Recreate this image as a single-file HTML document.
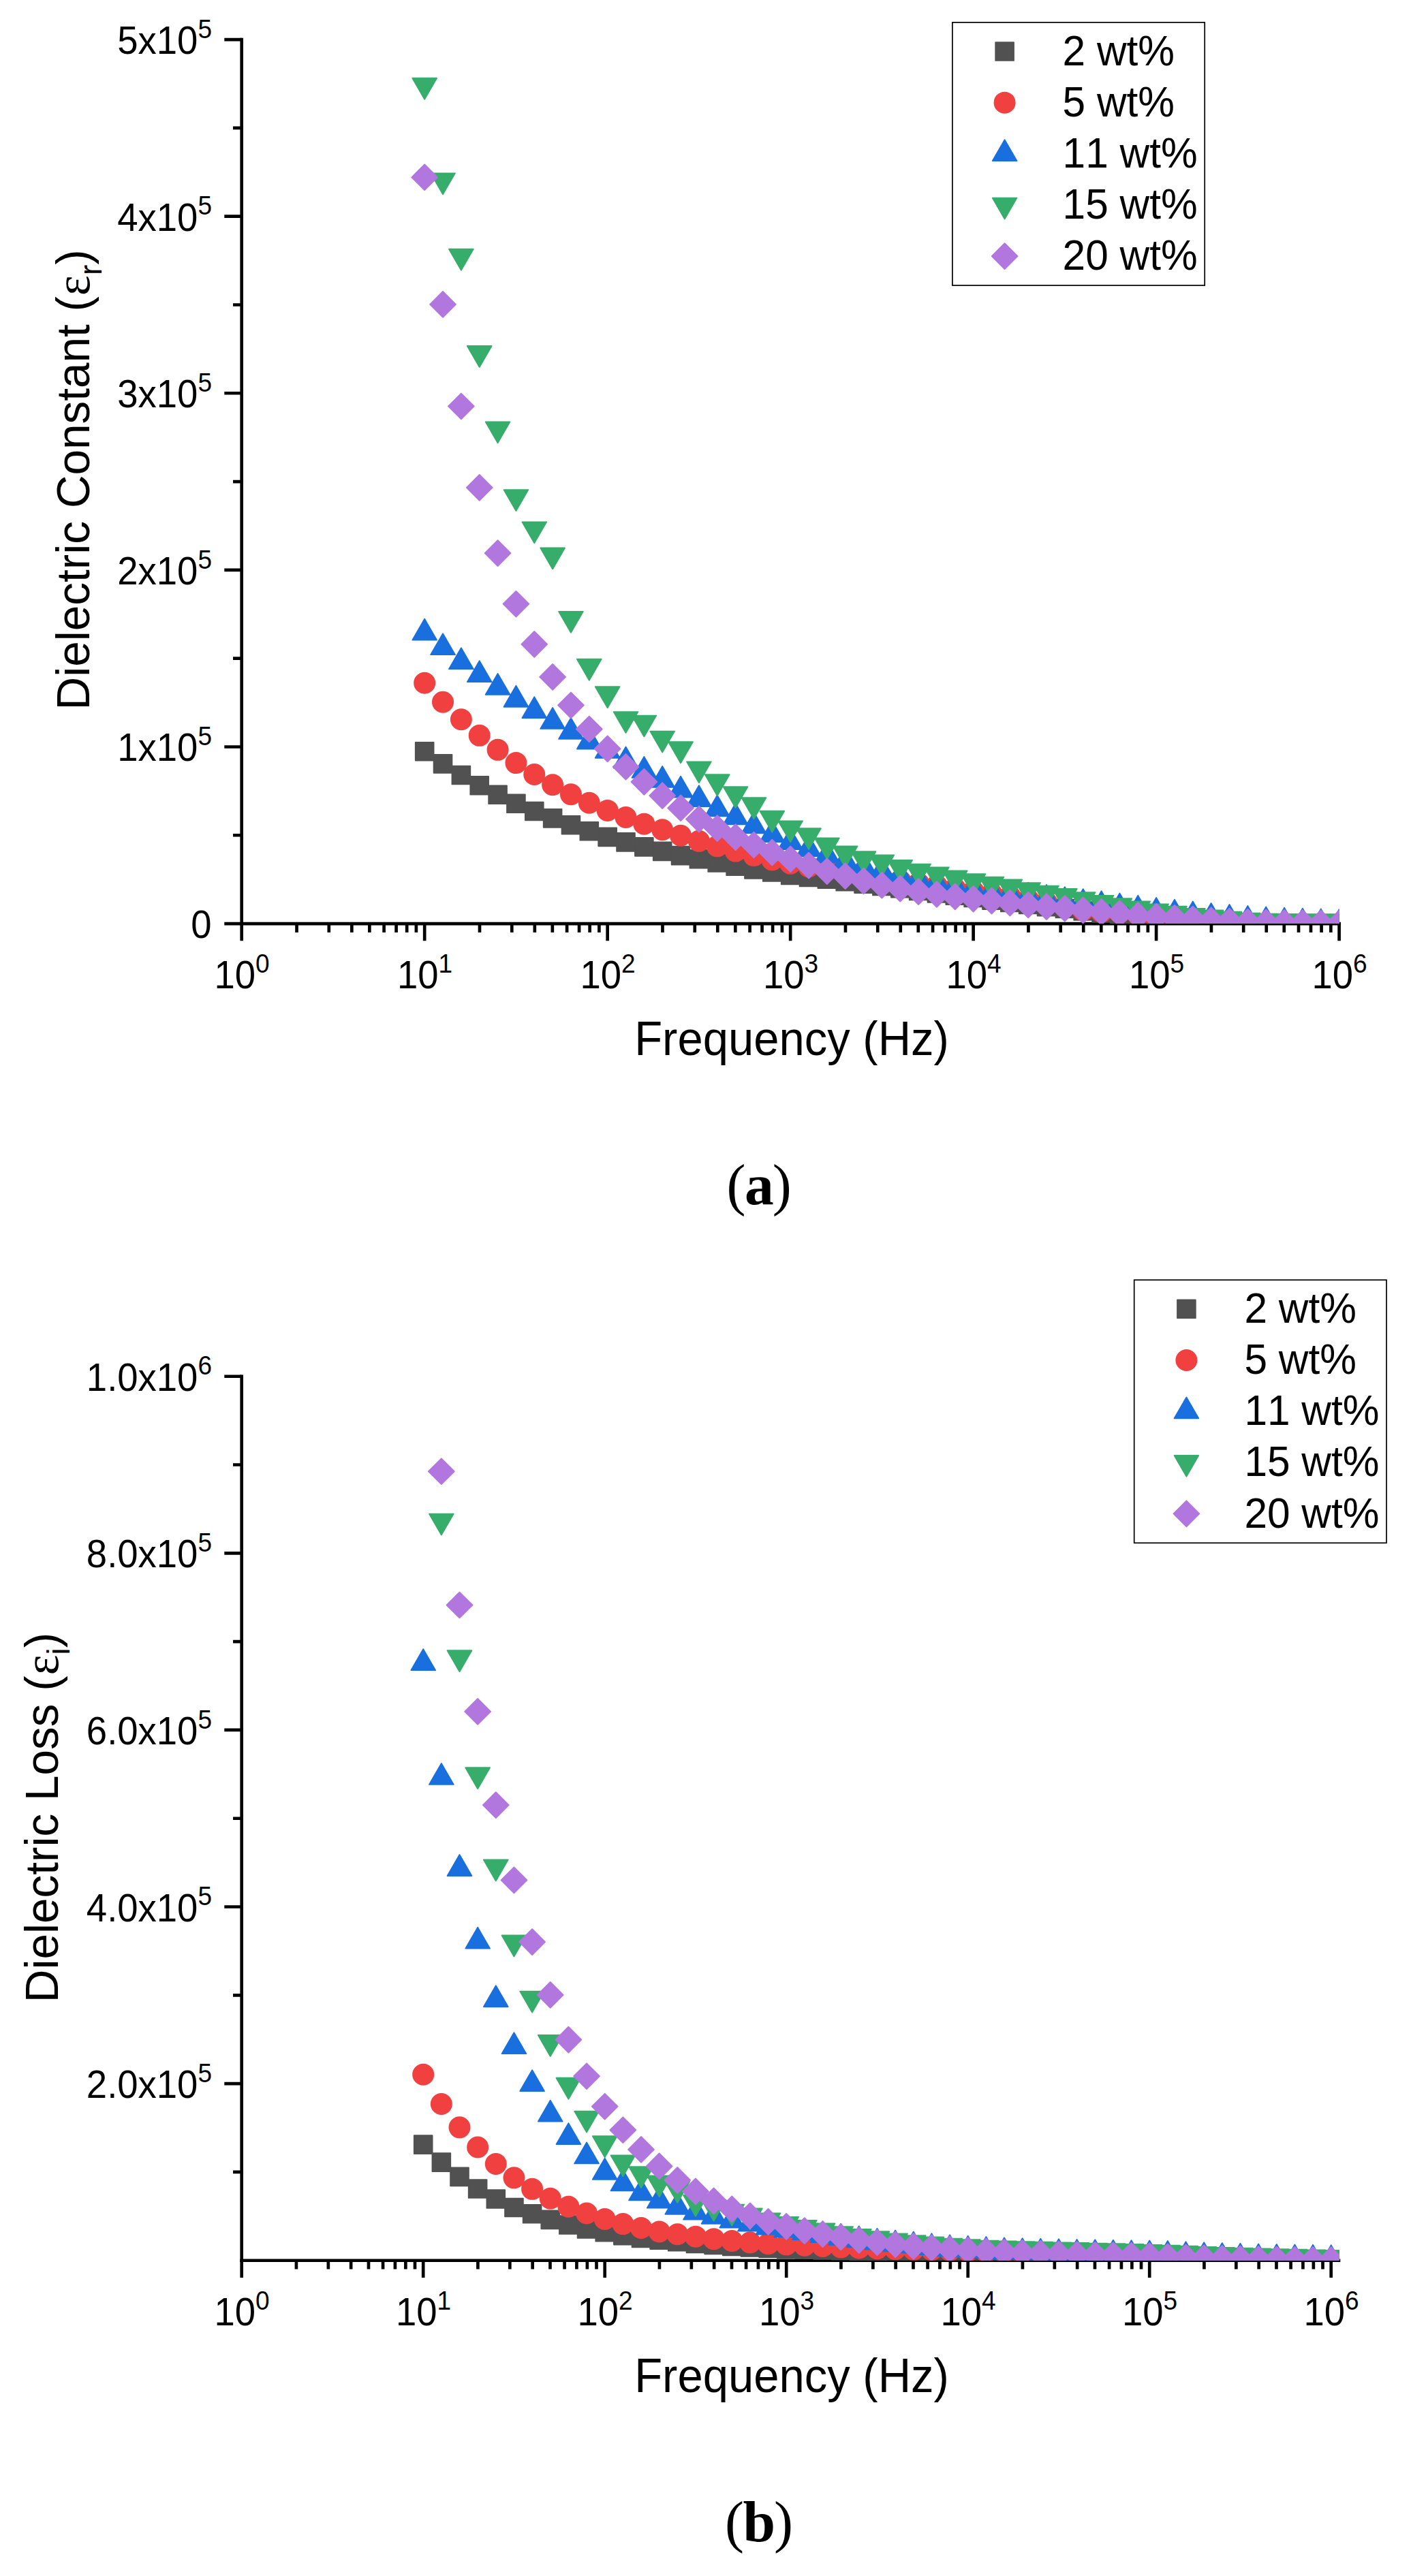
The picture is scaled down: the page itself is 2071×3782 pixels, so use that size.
<!DOCTYPE html>
<html lang="en"><head><meta charset="utf-8"><title>Dielectric constant and loss vs frequency</title>
<style>html,body{margin:0;padding:0;background:#fff}body{width:2071px;height:3782px;overflow:hidden}</style></head>
<body>
<svg width="2071" height="3782" viewBox="0 0 2071 3782" style="display:block">
<rect width="2071" height="3782" fill="#fff"/>
<g font-family='"Liberation Sans", sans-serif' fill="#000" style="font-kerning:none">
<g stroke="#000" stroke-width="4.65" stroke-linecap="butt" fill="none">
<path d="M354.7 55.72V1358.38"/>
<path d="M352.38 1356.05H1967.92"/>
<path d="M329.3 1356.05H354.7M329.3 1096.45H354.7M329.3 836.85H354.7M329.3 577.25H354.7M329.3 317.65H354.7M329.3 58.05H354.7M342 1226.25H354.7M342 966.65H354.7M342 707.05H354.7M342 447.45H354.7M342 187.85H354.7M354.7 1356.05V1381.35M435.52 1356.05V1368.95M482.8 1356.05V1368.95M516.34 1356.05V1368.95M542.36 1356.05V1368.95M563.62 1356.05V1368.95M581.59 1356.05V1368.95M597.16 1356.05V1368.95M610.9 1356.05V1368.95M623.18 1356.05V1381.35M704 1356.05V1368.95M751.28 1356.05V1368.95M784.82 1356.05V1368.95M810.84 1356.05V1368.95M832.1 1356.05V1368.95M850.07 1356.05V1368.95M865.64 1356.05V1368.95M879.38 1356.05V1368.95M891.66 1356.05V1381.35M972.48 1356.05V1368.95M1019.76 1356.05V1368.95M1053.3 1356.05V1368.95M1079.32 1356.05V1368.95M1100.58 1356.05V1368.95M1118.55 1356.05V1368.95M1134.12 1356.05V1368.95M1147.86 1356.05V1368.95M1160.14 1356.05V1381.35M1240.96 1356.05V1368.95M1288.24 1356.05V1368.95M1321.78 1356.05V1368.95M1347.8 1356.05V1368.95M1369.06 1356.05V1368.95M1387.03 1356.05V1368.95M1402.6 1356.05V1368.95M1416.34 1356.05V1368.95M1428.62 1356.05V1381.35M1509.44 1356.05V1368.95M1556.72 1356.05V1368.95M1590.26 1356.05V1368.95M1616.28 1356.05V1368.95M1637.54 1356.05V1368.95M1655.51 1356.05V1368.95M1671.08 1356.05V1368.95M1684.82 1356.05V1368.95M1697.1 1356.05V1381.35M1777.92 1356.05V1368.95M1825.2 1356.05V1368.95M1858.74 1356.05V1368.95M1884.76 1356.05V1368.95M1906.02 1356.05V1368.95M1923.99 1356.05V1368.95M1939.56 1356.05V1368.95M1953.3 1356.05V1368.95M1965.58 1356.05V1381.35"/>
</g>
<text transform="translate(310.5 1377.05) scale(1 1.05)" text-anchor="end" font-size="54.5">0</text>
<text transform="translate(311 1117.45) scale(1 1.05)" text-anchor="end" font-size="54.5">1x10<tspan dy="-22.2" font-size="37">5</tspan></text>
<text transform="translate(311 857.85) scale(1 1.05)" text-anchor="end" font-size="54.5">2x10<tspan dy="-22.2" font-size="37">5</tspan></text>
<text transform="translate(311 598.25) scale(1 1.05)" text-anchor="end" font-size="54.5">3x10<tspan dy="-22.2" font-size="37">5</tspan></text>
<text transform="translate(311 338.65) scale(1 1.05)" text-anchor="end" font-size="54.5">4x10<tspan dy="-22.2" font-size="37">5</tspan></text>
<text transform="translate(311 79.05) scale(1 1.05)" text-anchor="end" font-size="54.5">5x10<tspan dy="-22.2" font-size="37">5</tspan></text>
<text transform="translate(355.1 1451.45) scale(1 1.05)" text-anchor="middle" font-size="54.5">10<tspan dy="-22.2" font-size="37">0</tspan></text>
<text transform="translate(623.58 1451.45) scale(1 1.05)" text-anchor="middle" font-size="54.5">10<tspan dy="-22.2" font-size="37">1</tspan></text>
<text transform="translate(892.06 1451.45) scale(1 1.05)" text-anchor="middle" font-size="54.5">10<tspan dy="-22.2" font-size="37">2</tspan></text>
<text transform="translate(1160.54 1451.45) scale(1 1.05)" text-anchor="middle" font-size="54.5">10<tspan dy="-22.2" font-size="37">3</tspan></text>
<text transform="translate(1429.02 1451.45) scale(1 1.05)" text-anchor="middle" font-size="54.5">10<tspan dy="-22.2" font-size="37">4</tspan></text>
<text transform="translate(1697.5 1451.45) scale(1 1.05)" text-anchor="middle" font-size="54.5">10<tspan dy="-22.2" font-size="37">5</tspan></text>
<text transform="translate(1965.98 1451.45) scale(1 1.05)" text-anchor="middle" font-size="54.5">10<tspan dy="-22.2" font-size="37">6</tspan></text>
<text transform="translate(1162 1549.1) scale(1 1.055)" text-anchor="middle" font-size="67">Frequency (Hz)</text>
<text transform="translate(131.4 704.4) rotate(-90) scale(1 1.01)" text-anchor="middle" font-size="67.5">Dielectric Constant (<tspan dx="1" font-family='"Liberation Serif", serif' font-size="71">ε</tspan><tspan dy="17.5" font-size="46">r</tspan><tspan dy="-17.5">)</tspan></text>
<text x="1114" y="1768.05" text-anchor="middle" font-family='"Liberation Serif", serif' font-size="84">(<tspan dx="-1.5" font-weight="bold" font-size="85.5">a</tspan><tspan dx="-2">)</tspan></text>
<clipPath id="clip0"><rect x="354.7" y="18.05" width="1610.9" height="1338"/></clipPath>
<g clip-path="url(#clip0)">
<path fill="#515151" stroke="#515151" stroke-width="1.8" stroke-linejoin="round" d="M609.78 1089.8h26.8v26.8h-26.8zM636.63 1107.97h26.8v26.8h-26.8zM663.48 1124.59h26.8v26.8h-26.8zM690.32 1139.9h26.8v26.8h-26.8zM717.17 1153.4h26.8v26.8h-26.8zM744.02 1166.38h26.8v26.8h-26.8zM770.87 1177.54h26.8v26.8h-26.8zM797.72 1187.93h26.8v26.8h-26.8zM824.56 1197.79h26.8v26.8h-26.8zM851.41 1206.88h26.8v26.8h-26.8zM878.26 1215.45h26.8v26.8h-26.8zM905.11 1222.97h26.8v26.8h-26.8zM931.96 1229.98h26.8v26.8h-26.8zM958.8 1236.47h26.8v26.8h-26.8zM985.65 1242.7h26.8v26.8h-26.8zM1012.5 1247.9h26.8v26.8h-26.8zM1039.35 1253.09h26.8v26.8h-26.8zM1066.2 1258.28h26.8v26.8h-26.8zM1093.04 1262.95h26.8v26.8h-26.8zM1119.89 1267.11h26.8v26.8h-26.8zM1146.74 1271.52h26.8v26.8h-26.8zM1173.59 1274.43h26.8v26.8h-26.8zM1200.44 1277.23h26.8v26.8h-26.8zM1227.28 1280.83h26.8v26.8h-26.8zM1254.13 1284.24h26.8v26.8h-26.8zM1280.98 1287.58h26.8v26.8h-26.8zM1307.83 1290.73h26.8v26.8h-26.8zM1334.68 1294.5h26.8v26.8h-26.8zM1361.52 1298h26.8v26.8h-26.8zM1388.37 1301.37h26.8v26.8h-26.8zM1415.22 1304.49h26.8v26.8h-26.8zM1442.07 1308.22h26.8v26.8h-26.8zM1468.92 1311.58h26.8v26.8h-26.8zM1495.76 1314.61h26.8v26.8h-26.8zM1522.61 1317.78h26.8v26.8h-26.8zM1549.46 1320.58h26.8v26.8h-26.8zM1576.31 1324.11h26.8v26.8h-26.8zM1603.16 1327.07h26.8v26.8h-26.8zM1630 1329.67h26.8v26.8h-26.8zM1656.85 1332.6h26.8v26.8h-26.8zM1683.7 1334.86h26.8v26.8h-26.8zM1710.55 1337.14h26.8v26.8h-26.8zM1737.4 1338.76h26.8v26.8h-26.8zM1764.24 1340.4h26.8v26.8h-26.8zM1791.09 1341.35h26.8v26.8h-26.8zM1817.94 1342.07h26.8v26.8h-26.8zM1844.79 1342.39h26.8v26.8h-26.8zM1871.64 1342.39h26.8v26.8h-26.8zM1898.48 1342.39h26.8v26.8h-26.8zM1925.33 1342.39h26.8v26.8h-26.8zM1952.18 1342.39h26.8v26.8h-26.8z"/>
<path fill="#F14040"  d="M607.18 1002.73a16 16 0 1 0 32 0a16 16 0 1 0 -32 0zM634.03 1030.77a16 16 0 1 0 32 0a16 16 0 1 0 -32 0zM660.88 1056.21a16 16 0 1 0 32 0a16 16 0 1 0 -32 0zM687.72 1079.84a16 16 0 1 0 32 0a16 16 0 1 0 -32 0zM714.57 1100.86a16 16 0 1 0 32 0a16 16 0 1 0 -32 0zM741.42 1120.07a16 16 0 1 0 32 0a16 16 0 1 0 -32 0zM768.27 1136.95a16 16 0 1 0 32 0a16 16 0 1 0 -32 0zM795.12 1152.26a16 16 0 1 0 32 0a16 16 0 1 0 -32 0zM821.96 1166.28a16 16 0 1 0 32 0a16 16 0 1 0 -32 0zM848.81 1178.74a16 16 0 1 0 32 0a16 16 0 1 0 -32 0zM875.66 1189.91a16 16 0 1 0 32 0a16 16 0 1 0 -32 0zM902.51 1200.03a16 16 0 1 0 32 0a16 16 0 1 0 -32 0zM929.36 1209.64a16 16 0 1 0 32 0a16 16 0 1 0 -32 0zM956.2 1218.2a16 16 0 1 0 32 0a16 16 0 1 0 -32 0zM983.05 1226.77a16 16 0 1 0 32 0a16 16 0 1 0 -32 0zM1009.9 1234.82a16 16 0 1 0 32 0a16 16 0 1 0 -32 0zM1036.75 1242.35a16 16 0 1 0 32 0a16 16 0 1 0 -32 0zM1063.6 1249.61a16 16 0 1 0 32 0a16 16 0 1 0 -32 0zM1090.44 1256.1a16 16 0 1 0 32 0a16 16 0 1 0 -32 0zM1117.29 1262.33a16 16 0 1 0 32 0a16 16 0 1 0 -32 0zM1144.14 1267.79a16 16 0 1 0 32 0a16 16 0 1 0 -32 0zM1170.99 1272.35a16 16 0 1 0 32 0a16 16 0 1 0 -32 0zM1197.84 1276.67a16 16 0 1 0 32 0a16 16 0 1 0 -32 0zM1224.68 1280.77a16 16 0 1 0 32 0a16 16 0 1 0 -32 0zM1251.53 1284.66a16 16 0 1 0 32 0a16 16 0 1 0 -32 0zM1278.38 1288.92a16 16 0 1 0 32 0a16 16 0 1 0 -32 0zM1305.23 1292.93a16 16 0 1 0 32 0a16 16 0 1 0 -32 0zM1332.08 1296.69a16 16 0 1 0 32 0a16 16 0 1 0 -32 0zM1358.92 1300.24a16 16 0 1 0 32 0a16 16 0 1 0 -32 0zM1385.77 1304.62a16 16 0 1 0 32 0a16 16 0 1 0 -32 0zM1412.62 1308.66a16 16 0 1 0 32 0a16 16 0 1 0 -32 0zM1439.47 1312.38a16 16 0 1 0 32 0a16 16 0 1 0 -32 0zM1466.32 1315.81a16 16 0 1 0 32 0a16 16 0 1 0 -32 0zM1493.16 1320.65a16 16 0 1 0 32 0a16 16 0 1 0 -32 0zM1520.01 1324.9a16 16 0 1 0 32 0a16 16 0 1 0 -32 0zM1546.86 1331.42a16 16 0 1 0 32 0a16 16 0 1 0 -32 0zM1573.71 1336.58a16 16 0 1 0 32 0a16 16 0 1 0 -32 0zM1600.56 1338.92a16 16 0 1 0 32 0a16 16 0 1 0 -32 0zM1627.4 1339.95a16 16 0 1 0 32 0a16 16 0 1 0 -32 0zM1654.25 1343.07a16 16 0 1 0 32 0a16 16 0 1 0 -32 0zM1681.1 1348.26a16 16 0 1 0 32 0a16 16 0 1 0 -32 0zM1707.95 1350.86a16 16 0 1 0 32 0a16 16 0 1 0 -32 0zM1734.8 1352.93a16 16 0 1 0 32 0a16 16 0 1 0 -32 0zM1761.64 1354.04a16 16 0 1 0 32 0a16 16 0 1 0 -32 0zM1788.49 1354.75a16 16 0 1 0 32 0a16 16 0 1 0 -32 0zM1815.34 1355.4a16 16 0 1 0 32 0a16 16 0 1 0 -32 0zM1842.19 1356.05a16 16 0 1 0 32 0a16 16 0 1 0 -32 0zM1869.04 1356.37a16 16 0 1 0 32 0a16 16 0 1 0 -32 0zM1895.88 1356.7a16 16 0 1 0 32 0a16 16 0 1 0 -32 0zM1922.73 1357.02a16 16 0 1 0 32 0a16 16 0 1 0 -32 0zM1949.58 1357.35a16 16 0 1 0 32 0a16 16 0 1 0 -32 0z"/>
<path fill="#1A6FDF" stroke="#1A6FDF" stroke-width="1.8" stroke-linejoin="round" d="M623.18 908.61l17.89 30.99h-35.78zM650.03 930.16l17.89 30.99h-35.78zM676.88 951.18l17.89 30.99h-35.78zM703.72 970.13l17.89 30.99h-35.78zM730.57 988.83l17.89 30.99h-35.78zM757.42 1006.74l17.89 30.99h-35.78zM784.27 1023.09l17.89 30.99h-35.78zM811.12 1038.93l17.89 30.99h-35.78zM837.96 1053.98l17.89 30.99h-35.78zM864.81 1068.52l17.89 30.99h-35.78zM891.66 1081.76l17.89 30.99h-35.78zM918.51 1096.56l17.89 30.99h-35.78zM945.36 1110.84l17.89 30.99h-35.78zM972.2 1124.86l17.89 30.99h-35.78zM999.05 1139.65l17.89 30.99h-35.78zM1025.9 1153.15l17.89 30.99h-35.78zM1052.75 1167.43l17.89 30.99h-35.78zM1079.6 1179.37l17.89 30.99h-35.78zM1106.44 1192.35l17.89 30.99h-35.78zM1133.29 1205.07l17.89 30.99h-35.78zM1160.14 1216.1l17.89 30.99h-35.78zM1186.99 1226.2l17.89 30.99h-35.78zM1213.84 1235.45l17.89 30.99h-35.78zM1240.68 1243.93l17.89 30.99h-35.78zM1267.53 1251.69l17.89 30.99h-35.78zM1294.38 1258.8l17.89 30.99h-35.78zM1321.23 1265.3l17.89 30.99h-35.78zM1348.08 1271.03l17.89 30.99h-35.78zM1374.92 1276.28l17.89 30.99h-35.78zM1401.77 1281.11l17.89 30.99h-35.78zM1428.62 1285.55l17.89 30.99h-35.78zM1455.47 1289.18l17.89 30.99h-35.78zM1482.32 1292.55l17.89 30.99h-35.78zM1509.16 1295.67l17.89 30.99h-35.78zM1536.01 1299.05l17.89 30.99h-35.78zM1562.86 1302.16l17.89 30.99h-35.78zM1589.71 1305.15l17.89 30.99h-35.78zM1616.56 1308.13l17.89 30.99h-35.78zM1643.4 1311.51l17.89 30.99h-35.78zM1670.25 1314.62l17.89 30.99h-35.78zM1697.1 1317.84l17.89 30.99h-35.78zM1723.95 1320.65l17.89 30.99h-35.78zM1750.8 1323.45l17.89 30.99h-35.78zM1777.64 1326.05l17.89 30.99h-35.78zM1804.49 1328.04l17.89 30.99h-35.78zM1831.34 1329.84l17.89 30.99h-35.78zM1858.19 1331.34l17.89 30.99h-35.78zM1885.04 1332.64l17.89 30.99h-35.78zM1911.88 1333.65l17.89 30.99h-35.78zM1938.73 1334.43l17.89 30.99h-35.78zM1965.58 1334.95l17.89 30.99h-35.78z"/>
<path fill="#37AD6B" stroke="#37AD6B" stroke-width="1.8" stroke-linejoin="round" d="M623.18 145.69l17.89 -30.99h-35.78zM650.03 285.35l17.89 -30.99h-35.78zM676.88 396.72l17.89 -30.99h-35.78zM703.72 538.98l17.89 -30.99h-35.78zM730.57 650.35l17.89 -30.99h-35.78zM757.42 750.03l17.89 -30.99h-35.78zM784.27 797.28l17.89 -30.99h-35.78zM811.12 835.44l17.89 -30.99h-35.78zM837.96 928.9l17.89 -30.99h-35.78zM864.81 998.73l17.89 -30.99h-35.78zM891.66 1039.23l17.89 -30.99h-35.78zM918.51 1076.09l17.89 -30.99h-35.78zM945.36 1081.54l17.89 -30.99h-35.78zM972.2 1104.65l17.89 -30.99h-35.78zM999.05 1120.22l17.89 -30.99h-35.78zM1025.9 1149.3l17.89 -30.99h-35.78zM1052.75 1168.25l17.89 -30.99h-35.78zM1079.6 1186.16l17.89 -30.99h-35.78zM1106.44 1202.26l17.89 -30.99h-35.78zM1133.29 1221.73l17.89 -30.99h-35.78zM1160.14 1236.27l17.89 -30.99h-35.78zM1186.99 1247.17l17.89 -30.99h-35.78zM1213.84 1261.45l17.89 -30.99h-35.78zM1240.68 1273.39l17.89 -30.99h-35.78zM1267.53 1281.18l17.89 -30.99h-35.78zM1294.38 1286.37l17.89 -30.99h-35.78zM1321.23 1293.9l17.89 -30.99h-35.78zM1348.08 1299.61l17.89 -30.99h-35.78zM1374.92 1304.28l17.89 -30.99h-35.78zM1401.77 1309.47l17.89 -30.99h-35.78zM1428.62 1314.15l17.89 -30.99h-35.78zM1455.47 1318.56l17.89 -30.99h-35.78zM1482.32 1322.45l17.89 -30.99h-35.78zM1509.16 1327.13l17.89 -30.99h-35.78zM1536.01 1331.54l17.89 -30.99h-35.78zM1562.86 1335.95l17.89 -30.99h-35.78zM1589.71 1341.14l17.89 -30.99h-35.78zM1616.56 1345.82l17.89 -30.99h-35.78zM1643.4 1350.23l17.89 -30.99h-35.78zM1670.25 1354.38l17.89 -30.99h-35.78zM1697.1 1358.28l17.89 -30.99h-35.78zM1723.95 1361.76l17.89 -30.99h-35.78zM1750.8 1364.87l17.89 -30.99h-35.78zM1777.64 1367.47l17.89 -30.99h-35.78zM1804.49 1369.7l17.89 -30.99h-35.78zM1831.34 1371.52l17.89 -30.99h-35.78zM1858.19 1372.76l17.89 -30.99h-35.78zM1885.04 1373.26l17.89 -30.99h-35.78zM1911.88 1373.57l17.89 -30.99h-35.78zM1938.73 1373.75l17.89 -30.99h-35.78zM1965.58 1374.11l17.89 -30.99h-35.78z"/>
<path fill="#B177DE" stroke="#B177DE" stroke-width="1.8" stroke-linejoin="round" d="M623.18 241.35l18.93 18.93l-18.93 18.93l-18.93 -18.93zM650.03 428l18.93 18.93l-18.93 18.93l-18.93 -18.93zM676.88 577.53l18.93 18.93l-18.93 18.93l-18.93 -18.93zM703.72 696.95l18.93 18.93l-18.93 18.93l-18.93 -18.93zM730.57 793.26l18.93 18.93l-18.93 18.93l-18.93 -18.93zM757.42 867.77l18.93 18.93l-18.93 18.93l-18.93 -18.93zM784.27 926.95l18.93 18.93l-18.93 18.93l-18.93 -18.93zM811.12 974.98l18.93 18.93l-18.93 18.93l-18.93 -18.93zM837.96 1016.52l18.93 18.93l-18.93 18.93l-18.93 -18.93zM864.81 1051.56l18.93 18.93l-18.93 18.93l-18.93 -18.93zM891.66 1080.38l18.93 18.93l-18.93 18.93l-18.93 -18.93zM918.51 1106.86l18.93 18.93l-18.93 18.93l-18.93 -18.93zM945.36 1128.92l18.93 18.93l-18.93 18.93l-18.93 -18.93zM972.2 1149.17l18.93 18.93l-18.93 18.93l-18.93 -18.93zM999.05 1167.34l18.93 18.93l-18.93 18.93l-18.93 -18.93zM1025.9 1183.7l18.93 18.93l-18.93 18.93l-18.93 -18.93zM1052.75 1197.2l18.93 18.93l-18.93 18.93l-18.93 -18.93zM1079.6 1210.18l18.93 18.93l-18.93 18.93l-18.93 -18.93zM1106.44 1221.6l18.93 18.93l-18.93 18.93l-18.93 -18.93zM1133.29 1232.76l18.93 18.93l-18.93 18.93l-18.93 -18.93zM1160.14 1242.37l18.93 18.93l-18.93 18.93l-18.93 -18.93zM1186.99 1251.71l18.93 18.93l-18.93 18.93l-18.93 -18.93zM1213.84 1260.28l18.93 18.93l-18.93 18.93l-18.93 -18.93zM1240.68 1267.29l18.93 18.93l-18.93 18.93l-18.93 -18.93zM1267.53 1274.56l18.93 18.93l-18.93 18.93l-18.93 -18.93zM1294.38 1280.79l18.93 18.93l-18.93 18.93l-18.93 -18.93zM1321.23 1285.72l18.93 18.93l-18.93 18.93l-18.93 -18.93zM1348.08 1290.14l18.93 18.93l-18.93 18.93l-18.93 -18.93zM1374.92 1294.03l18.93 18.93l-18.93 18.93l-18.93 -18.93zM1401.77 1297.4l18.93 18.93l-18.93 18.93l-18.93 -18.93zM1428.62 1300.78l18.93 18.93l-18.93 18.93l-18.93 -18.93zM1455.47 1303.63l18.93 18.93l-18.93 18.93l-18.93 -18.93zM1482.32 1306.75l18.93 18.93l-18.93 18.93l-18.93 -18.93zM1509.16 1309.61l18.93 18.93l-18.93 18.93l-18.93 -18.93zM1536.01 1312.2l18.93 18.93l-18.93 18.93l-18.93 -18.93zM1562.86 1314.8l18.93 18.93l-18.93 18.93l-18.93 -18.93zM1589.71 1317.39l18.93 18.93l-18.93 18.93l-18.93 -18.93zM1616.56 1319.99l18.93 18.93l-18.93 18.93l-18.93 -18.93zM1643.4 1322.33l18.93 18.93l-18.93 18.93l-18.93 -18.93zM1670.25 1325.18l18.93 18.93l-18.93 18.93l-18.93 -18.93zM1697.1 1326.87l18.93 18.93l-18.93 18.93l-18.93 -18.93zM1723.95 1328.97l18.93 18.93l-18.93 18.93l-18.93 -18.93zM1750.8 1330.76l18.93 18.93l-18.93 18.93l-18.93 -18.93zM1777.64 1332.27l18.93 18.93l-18.93 18.93l-18.93 -18.93zM1804.49 1333.57l18.93 18.93l-18.93 18.93l-18.93 -18.93zM1831.34 1334.58l18.93 18.93l-18.93 18.93l-18.93 -18.93zM1858.19 1335.38l18.93 18.93l-18.93 18.93l-18.93 -18.93zM1885.04 1335.88l18.93 18.93l-18.93 18.93l-18.93 -18.93zM1911.88 1336.08l18.93 18.93l-18.93 18.93l-18.93 -18.93zM1938.73 1336.34l18.93 18.93l-18.93 18.93l-18.93 -18.93zM1965.58 1336.6l18.93 18.93l-18.93 18.93l-18.93 -18.93z"/>
</g>
<rect x="1397.9" y="32.9" width="370.3" height="386.1" fill="#fff" stroke="#000" stroke-width="1.7"/>
<path fill="#515151" stroke="#515151" stroke-width="1.8" stroke-linejoin="round" d="M1461.2 62.1h26.8v26.8h-26.8z"/>
<text transform="translate(1559.6 95.7) scale(1 1.045)" font-size="60.4">2 wt%</text>
<path fill="#F14040"  d="M1458.6 150.65a16 16 0 1 0 32 0a16 16 0 1 0 -32 0z"/>
<text transform="translate(1559.6 170.85) scale(1 1.045)" font-size="60.4">5 wt%</text>
<path fill="#1A6FDF" stroke="#1A6FDF" stroke-width="1.8" stroke-linejoin="round" d="M1474.6 205.14l17.89 30.99h-35.78z"/>
<text transform="translate(1559.6 246) scale(1 1.045)" font-size="60.4">11 wt%</text>
<path fill="#37AD6B" stroke="#37AD6B" stroke-width="1.8" stroke-linejoin="round" d="M1474.6 321.61l17.89 -30.99h-35.78z"/>
<text transform="translate(1559.6 321.15) scale(1 1.045)" font-size="60.4">15 wt%</text>
<path fill="#B177DE" stroke="#B177DE" stroke-width="1.8" stroke-linejoin="round" d="M1474.6 357.17l18.93 18.93l-18.93 18.93l-18.93 -18.93z"/>
<text transform="translate(1559.6 396.3) scale(1 1.045)" font-size="60.4">20 wt%</text>
</g>
<g font-family='"Liberation Sans", sans-serif' fill="#000" style="font-kerning:none">
<g stroke="#000" stroke-width="4.65" stroke-linecap="butt" fill="none">
<path d="M354.7 2018.38V3321.02"/>
<path d="M352.38 3318.7H1967.3"/>
<path d="M329.3 3059.1H354.7M329.3 2799.5H354.7M329.3 2539.9H354.7M329.3 2280.3H354.7M329.3 2020.7H354.7M342 3188.9H354.7M342 2929.3H354.7M342 2669.7H354.7M342 2410.1H354.7M342 2150.5H354.7M354.7 3318.7V3344M434.92 3318.7V3331.6M481.85 3318.7V3331.6M515.15 3318.7V3331.6M540.98 3318.7V3331.6M562.08 3318.7V3331.6M579.92 3318.7V3331.6M595.37 3318.7V3331.6M609.01 3318.7V3331.6M621.2 3318.7V3344M701.42 3318.7V3331.6M748.35 3318.7V3331.6M781.65 3318.7V3331.6M807.48 3318.7V3331.6M828.58 3318.7V3331.6M846.42 3318.7V3331.6M861.87 3318.7V3331.6M875.51 3318.7V3331.6M887.7 3318.7V3344M967.92 3318.7V3331.6M1014.85 3318.7V3331.6M1048.15 3318.7V3331.6M1073.98 3318.7V3331.6M1095.08 3318.7V3331.6M1112.92 3318.7V3331.6M1128.37 3318.7V3331.6M1142.01 3318.7V3331.6M1154.2 3318.7V3344M1234.42 3318.7V3331.6M1281.35 3318.7V3331.6M1314.65 3318.7V3331.6M1340.48 3318.7V3331.6M1361.58 3318.7V3331.6M1379.42 3318.7V3331.6M1394.87 3318.7V3331.6M1408.51 3318.7V3331.6M1420.7 3318.7V3344M1500.92 3318.7V3331.6M1547.85 3318.7V3331.6M1581.15 3318.7V3331.6M1606.98 3318.7V3331.6M1628.08 3318.7V3331.6M1645.92 3318.7V3331.6M1661.37 3318.7V3331.6M1675.01 3318.7V3331.6M1687.2 3318.7V3344M1767.42 3318.7V3331.6M1814.35 3318.7V3331.6M1847.65 3318.7V3331.6M1873.48 3318.7V3331.6M1894.58 3318.7V3331.6M1912.42 3318.7V3331.6M1927.87 3318.7V3331.6M1941.51 3318.7V3331.6M1953.7 3318.7V3344"/>
</g>
<text transform="translate(311 3080.1) scale(1 1.05)" text-anchor="end" font-size="54.5">2.0x10<tspan dy="-22.2" font-size="37">5</tspan></text>
<text transform="translate(311 2820.5) scale(1 1.05)" text-anchor="end" font-size="54.5">4.0x10<tspan dy="-22.2" font-size="37">5</tspan></text>
<text transform="translate(311 2560.9) scale(1 1.05)" text-anchor="end" font-size="54.5">6.0x10<tspan dy="-22.2" font-size="37">5</tspan></text>
<text transform="translate(311 2301.3) scale(1 1.05)" text-anchor="end" font-size="54.5">8.0x10<tspan dy="-22.2" font-size="37">5</tspan></text>
<text transform="translate(311 2041.7) scale(1 1.05)" text-anchor="end" font-size="54.5">1.0x10<tspan dy="-22.2" font-size="37">6</tspan></text>
<text transform="translate(355.1 3414.1) scale(1 1.05)" text-anchor="middle" font-size="54.5">10<tspan dy="-22.2" font-size="37">0</tspan></text>
<text transform="translate(621.6 3414.1) scale(1 1.05)" text-anchor="middle" font-size="54.5">10<tspan dy="-22.2" font-size="37">1</tspan></text>
<text transform="translate(888.1 3414.1) scale(1 1.05)" text-anchor="middle" font-size="54.5">10<tspan dy="-22.2" font-size="37">2</tspan></text>
<text transform="translate(1154.6 3414.1) scale(1 1.05)" text-anchor="middle" font-size="54.5">10<tspan dy="-22.2" font-size="37">3</tspan></text>
<text transform="translate(1421.1 3414.1) scale(1 1.05)" text-anchor="middle" font-size="54.5">10<tspan dy="-22.2" font-size="37">4</tspan></text>
<text transform="translate(1687.6 3414.1) scale(1 1.05)" text-anchor="middle" font-size="54.5">10<tspan dy="-22.2" font-size="37">5</tspan></text>
<text transform="translate(1954.1 3414.1) scale(1 1.05)" text-anchor="middle" font-size="54.5">10<tspan dy="-22.2" font-size="37">6</tspan></text>
<text transform="translate(1162 3511.75) scale(1 1.055)" text-anchor="middle" font-size="67">Frequency (Hz)</text>
<text transform="translate(84.8 2668.5) rotate(-90) scale(1 1.01)" text-anchor="middle" font-size="67.5">Dielectric Loss (<tspan dx="1" font-family='"Liberation Serif", serif' font-size="71">ε</tspan><tspan dy="17.5" font-size="46">i</tspan><tspan dy="-17.5">)</tspan></text>
<text x="1114" y="3730.7" text-anchor="middle" font-family='"Liberation Serif", serif' font-size="84">(<tspan dx="-1.5" font-weight="bold" font-size="85.5">b</tspan><tspan dx="-2">)</tspan></text>
<clipPath id="clip1"><rect x="354.7" y="1980.7" width="1611.2" height="1338"/></clipPath>
<g clip-path="url(#clip1)">
<path fill="#515151" stroke="#515151" stroke-width="1.8" stroke-linejoin="round" d="M607.8 3135.26h26.8v26.8h-26.8zM634.45 3161.22h26.8v26.8h-26.8zM661.1 3182.51h26.8v26.8h-26.8zM687.75 3200.16h26.8v26.8h-26.8zM714.4 3215.09h26.8v26.8h-26.8zM741.05 3227.55h26.8v26.8h-26.8zM767.7 3236.9h26.8v26.8h-26.8zM794.35 3245.46h26.8v26.8h-26.8zM821 3253.12h26.8v26.8h-26.8zM847.65 3258.96h26.8v26.8h-26.8zM874.3 3263.89h26.8v26.8h-26.8zM900.95 3268.7h26.8v26.8h-26.8zM927.6 3272.46h26.8v26.8h-26.8zM954.25 3275.19h26.8v26.8h-26.8zM980.9 3277.91h26.8v26.8h-26.8zM1007.55 3280.51h26.8v26.8h-26.8zM1034.2 3282.46h26.8v26.8h-26.8zM1060.85 3284.53h26.8v26.8h-26.8zM1087.5 3285.96h26.8v26.8h-26.8zM1114.15 3287.26h26.8v26.8h-26.8zM1140.8 3288.56h26.8v26.8h-26.8zM1167.45 3289.33h26.8v26.8h-26.8zM1194.1 3290.14h26.8v26.8h-26.8zM1220.75 3290.9h26.8v26.8h-26.8zM1247.4 3291.63h26.8v26.8h-26.8zM1274.05 3292.32h26.8v26.8h-26.8zM1300.7 3293.21h26.8v26.8h-26.8zM1327.35 3294.05h26.8v26.8h-26.8zM1354 3294.82h26.8v26.8h-26.8zM1380.65 3295.54h26.8v26.8h-26.8zM1407.3 3296.21h26.8v26.8h-26.8zM1433.95 3296.98h26.8v26.8h-26.8zM1460.6 3297.69h26.8v26.8h-26.8zM1487.25 3298.33h26.8v26.8h-26.8zM1513.9 3298.92h26.8v26.8h-26.8zM1540.55 3299.46h26.8v26.8h-26.8zM1567.2 3299.91h26.8v26.8h-26.8zM1593.85 3300.33h26.8v26.8h-26.8zM1620.5 3300.72h26.8v26.8h-26.8zM1647.15 3301.08h26.8v26.8h-26.8zM1673.8 3301.41h26.8v26.8h-26.8zM1700.45 3302.04h26.8v26.8h-26.8zM1727.1 3302.58h26.8v26.8h-26.8zM1753.75 3303.03h26.8v26.8h-26.8zM1780.4 3303.4h26.8v26.8h-26.8zM1807.05 3303.71h26.8v26.8h-26.8zM1833.7 3303.97h26.8v26.8h-26.8zM1860.35 3304.19h26.8v26.8h-26.8zM1887 3304.37h26.8v26.8h-26.8zM1913.65 3304.52h26.8v26.8h-26.8zM1940.3 3304.65h26.8v26.8h-26.8z"/>
<path fill="#F14040"  d="M605.2 3045.73a16 16 0 1 0 32 0a16 16 0 1 0 -32 0zM631.85 3088.95a16 16 0 1 0 32 0a16 16 0 1 0 -32 0zM658.5 3123.35a16 16 0 1 0 32 0a16 16 0 1 0 -32 0zM685.15 3152.56a16 16 0 1 0 32 0a16 16 0 1 0 -32 0zM711.8 3176.96a16 16 0 1 0 32 0a16 16 0 1 0 -32 0zM738.45 3197.34a16 16 0 1 0 32 0a16 16 0 1 0 -32 0zM765.1 3213.82a16 16 0 1 0 32 0a16 16 0 1 0 -32 0zM791.75 3227.71a16 16 0 1 0 32 0a16 16 0 1 0 -32 0zM818.4 3239.78a16 16 0 1 0 32 0a16 16 0 1 0 -32 0zM845.05 3249.52a16 16 0 1 0 32 0a16 16 0 1 0 -32 0zM871.7 3257.95a16 16 0 1 0 32 0a16 16 0 1 0 -32 0zM898.35 3265.09a16 16 0 1 0 32 0a16 16 0 1 0 -32 0zM925 3271.06a16 16 0 1 0 32 0a16 16 0 1 0 -32 0zM951.65 3276.39a16 16 0 1 0 32 0a16 16 0 1 0 -32 0zM978.3 3280.28a16 16 0 1 0 32 0a16 16 0 1 0 -32 0zM1004.95 3283.65a16 16 0 1 0 32 0a16 16 0 1 0 -32 0zM1031.6 3287.16a16 16 0 1 0 32 0a16 16 0 1 0 -32 0zM1058.25 3290.01a16 16 0 1 0 32 0a16 16 0 1 0 -32 0zM1084.9 3292.35a16 16 0 1 0 32 0a16 16 0 1 0 -32 0zM1111.55 3294.3a16 16 0 1 0 32 0a16 16 0 1 0 -32 0zM1138.2 3295.34a16 16 0 1 0 32 0a16 16 0 1 0 -32 0zM1164.85 3296.63a16 16 0 1 0 32 0a16 16 0 1 0 -32 0zM1191.5 3298.06a16 16 0 1 0 32 0a16 16 0 1 0 -32 0zM1218.15 3299.36a16 16 0 1 0 32 0a16 16 0 1 0 -32 0zM1244.8 3300.4a16 16 0 1 0 32 0a16 16 0 1 0 -32 0zM1271.45 3301.31a16 16 0 1 0 32 0a16 16 0 1 0 -32 0zM1298.1 3302.09a16 16 0 1 0 32 0a16 16 0 1 0 -32 0zM1324.75 3302.6a16 16 0 1 0 32 0a16 16 0 1 0 -32 0zM1351.4 3303.12a16 16 0 1 0 32 0a16 16 0 1 0 -32 0zM1378.05 3303.9a16 16 0 1 0 32 0a16 16 0 1 0 -32 0zM1404.7 3304.81a16 16 0 1 0 32 0a16 16 0 1 0 -32 0zM1431.35 3305.98a16 16 0 1 0 32 0a16 16 0 1 0 -32 0zM1458 3307.28a16 16 0 1 0 32 0a16 16 0 1 0 -32 0zM1484.65 3308.58a16 16 0 1 0 32 0a16 16 0 1 0 -32 0zM1511.3 3309.87a16 16 0 1 0 32 0a16 16 0 1 0 -32 0zM1537.95 3311.13a16 16 0 1 0 32 0a16 16 0 1 0 -32 0zM1564.6 3312.21a16 16 0 1 0 32 0a16 16 0 1 0 -32 0zM1591.25 3312.99a16 16 0 1 0 32 0a16 16 0 1 0 -32 0zM1617.9 3313.67a16 16 0 1 0 32 0a16 16 0 1 0 -32 0zM1644.55 3314.28a16 16 0 1 0 32 0a16 16 0 1 0 -32 0zM1671.2 3314.81a16 16 0 1 0 32 0a16 16 0 1 0 -32 0zM1697.85 3315.44a16 16 0 1 0 32 0a16 16 0 1 0 -32 0zM1724.5 3315.98a16 16 0 1 0 32 0a16 16 0 1 0 -32 0zM1751.15 3316.43a16 16 0 1 0 32 0a16 16 0 1 0 -32 0zM1777.8 3316.8a16 16 0 1 0 32 0a16 16 0 1 0 -32 0zM1804.45 3317.11a16 16 0 1 0 32 0a16 16 0 1 0 -32 0zM1831.1 3317.37a16 16 0 1 0 32 0a16 16 0 1 0 -32 0zM1857.75 3317.59a16 16 0 1 0 32 0a16 16 0 1 0 -32 0zM1884.4 3317.77a16 16 0 1 0 32 0a16 16 0 1 0 -32 0zM1911.05 3317.92a16 16 0 1 0 32 0a16 16 0 1 0 -32 0zM1937.7 3318.05a16 16 0 1 0 32 0a16 16 0 1 0 -32 0z"/>
<path fill="#1A6FDF" stroke="#1A6FDF" stroke-width="1.8" stroke-linejoin="round" d="M621.2 2421.11l17.89 30.99h-35.78zM647.85 2588.94l17.89 30.99h-35.78zM674.5 2723.03l17.89 30.99h-35.78zM701.15 2829.59l17.89 30.99h-35.78zM727.8 2915.26l17.89 30.99h-35.78zM754.45 2984.18l17.89 30.99h-35.78zM781.1 3039.09l17.89 30.99h-35.78zM807.75 3083.61l17.89 30.99h-35.78zM834.4 3117.1l17.89 30.99h-35.78zM861.05 3145.4l17.89 30.99h-35.78zM887.7 3168.76l17.89 30.99h-35.78zM914.35 3185.37l17.89 30.99h-35.78zM941 3199.39l17.89 30.99h-35.78zM967.65 3210.69l17.89 30.99h-35.78zM994.3 3219.77l17.89 30.99h-35.78zM1020.95 3227.69l17.89 30.99h-35.78zM1047.6 3233.79l17.89 30.99h-35.78zM1074.25 3239.63l17.89 30.99h-35.78zM1100.9 3244.69l17.89 30.99h-35.78zM1127.55 3249.5l17.89 30.99h-35.78zM1154.2 3253.26l17.89 30.99h-35.78zM1180.85 3257.15l17.89 30.99h-35.78zM1207.5 3261.18l17.89 30.99h-35.78zM1234.15 3264.81l17.89 30.99h-35.78zM1260.8 3268.32l17.89 30.99h-35.78zM1287.45 3271.69l17.89 30.99h-35.78zM1314.1 3274.42l17.89 30.99h-35.78zM1340.75 3276.49l17.89 30.99h-35.78zM1367.4 3279.09l17.89 30.99h-35.78zM1394.05 3281.3l17.89 30.99h-35.78zM1420.7 3282.72l17.89 30.99h-35.78zM1447.35 3284.02l17.89 30.99h-35.78zM1474 3285.32l17.89 30.99h-35.78zM1500.65 3286.1l17.89 30.99h-35.78zM1527.3 3286.75l17.89 30.99h-35.78zM1553.95 3287.27l17.89 30.99h-35.78zM1580.6 3287.84l17.89 30.99h-35.78zM1607.25 3288.24l17.89 30.99h-35.78zM1633.9 3288.7l17.89 30.99h-35.78zM1660.55 3289.14l17.89 30.99h-35.78zM1687.2 3289.54l17.89 30.99h-35.78zM1713.85 3289.99l17.89 30.99h-35.78zM1740.5 3291.19l17.89 30.99h-35.78zM1767.15 3292.21l17.89 30.99h-35.78zM1793.8 3293.07l17.89 30.99h-35.78zM1820.45 3293.81l17.89 30.99h-35.78zM1847.1 3294.44l17.89 30.99h-35.78zM1873.75 3294.97l17.89 30.99h-35.78zM1900.4 3295.43l17.89 30.99h-35.78zM1927.05 3295.82l17.89 30.99h-35.78zM1953.7 3296.15l17.89 30.99h-35.78z"/>
<path fill="#37AD6B" stroke="#37AD6B" stroke-width="1.8" stroke-linejoin="round" d="M647.85 2253.58l17.89 -30.99h-35.78zM674.5 2454.25l17.89 -30.99h-35.78zM701.15 2626.24l17.89 -30.99h-35.78zM727.8 2761.49l17.89 -30.99h-35.78zM754.45 2872.47l17.89 -30.99h-35.78zM781.1 2954.63l17.89 -30.99h-35.78zM807.75 3019.01l17.89 -30.99h-35.78zM834.4 3081.71l17.89 -30.99h-35.78zM861.05 3130.64l17.89 -30.99h-35.78zM887.7 3167.24l17.89 -30.99h-35.78zM914.35 3195.28l17.89 -30.99h-35.78zM941 3212.03l17.89 -30.99h-35.78zM967.65 3225.39l17.89 -30.99h-35.78zM994.3 3234.09l17.89 -30.99h-35.78zM1020.95 3253.69l17.89 -30.99h-35.78zM1047.6 3260.7l17.89 -30.99h-35.78zM1074.25 3267.58l17.89 -30.99h-35.78zM1100.9 3273.42l17.89 -30.99h-35.78zM1127.55 3280.3l17.89 -30.99h-35.78zM1154.2 3285.88l17.89 -30.99h-35.78zM1180.85 3290.81l17.89 -30.99h-35.78zM1207.5 3295.49l17.89 -30.99h-35.78zM1234.15 3300.16l17.89 -30.99h-35.78zM1260.8 3303.92l17.89 -30.99h-35.78zM1287.45 3307.17l17.89 -30.99h-35.78zM1314.1 3310.41l17.89 -30.99h-35.78zM1340.75 3313.14l17.89 -30.99h-35.78zM1367.4 3315.48l17.89 -30.99h-35.78zM1394.05 3317.55l17.89 -30.99h-35.78zM1420.7 3319.11l17.89 -30.99h-35.78zM1447.35 3320.54l17.89 -30.99h-35.78zM1474 3321.45l17.89 -30.99h-35.78zM1500.65 3322.1l17.89 -30.99h-35.78zM1527.3 3322.74l17.89 -30.99h-35.78zM1553.95 3323.39l17.89 -30.99h-35.78zM1580.6 3323.96l17.89 -30.99h-35.78zM1607.25 3324.69l17.89 -30.99h-35.78zM1633.9 3325.26l17.89 -30.99h-35.78zM1660.55 3325.91l17.89 -30.99h-35.78zM1687.2 3326.77l17.89 -30.99h-35.78zM1713.85 3327.55l17.89 -30.99h-35.78zM1740.5 3328.74l17.89 -30.99h-35.78zM1767.15 3329.81l17.89 -30.99h-35.78zM1793.8 3330.77l17.89 -30.99h-35.78zM1820.45 3331.63l17.89 -30.99h-35.78zM1847.1 3332.41l17.89 -30.99h-35.78zM1873.75 3333.11l17.89 -30.99h-35.78zM1900.4 3333.74l17.89 -30.99h-35.78zM1927.05 3334.31l17.89 -30.99h-35.78zM1953.7 3334.82l17.89 -30.99h-35.78z"/>
<path fill="#B177DE" stroke="#B177DE" stroke-width="1.8" stroke-linejoin="round" d="M647.85 2141.31l18.93 18.93l-18.93 18.93l-18.93 -18.93zM674.5 2337.57l18.93 18.93l-18.93 18.93l-18.93 -18.93zM701.15 2493.97l18.93 18.93l-18.93 18.93l-18.93 -18.93zM727.8 2631.17l18.93 18.93l-18.93 18.93l-18.93 -18.93zM754.45 2741.5l18.93 18.93l-18.93 18.93l-18.93 -18.93zM781.1 2832.23l18.93 18.93l-18.93 18.93l-18.93 -18.93zM807.75 2909.98l18.93 18.93l-18.93 18.93l-18.93 -18.93zM834.4 2975.66l18.93 18.93l-18.93 18.93l-18.93 -18.93zM861.05 3029.27l18.93 18.93l-18.93 18.93l-18.93 -18.93zM887.7 3073.79l18.93 18.93l-18.93 18.93l-18.93 -18.93zM914.35 3108.32l18.93 18.93l-18.93 18.93l-18.93 -18.93zM941 3137l18.93 18.93l-18.93 18.93l-18.93 -18.93zM967.65 3161.41l18.93 18.93l-18.93 18.93l-18.93 -18.93zM994.3 3181.91l18.93 18.93l-18.93 18.93l-18.93 -18.93zM1020.95 3198.4l18.93 18.93l-18.93 18.93l-18.93 -18.93zM1047.6 3212.42l18.93 18.93l-18.93 18.93l-18.93 -18.93zM1074.25 3224.36l18.93 18.93l-18.93 18.93l-18.93 -18.93zM1100.9 3234.35l18.93 18.93l-18.93 18.93l-18.93 -18.93zM1127.55 3242.92l18.93 18.93l-18.93 18.93l-18.93 -18.93zM1154.2 3249.93l18.93 18.93l-18.93 18.93l-18.93 -18.93zM1180.85 3256.16l18.93 18.93l-18.93 18.93l-18.93 -18.93zM1207.5 3261.22l18.93 18.93l-18.93 18.93l-18.93 -18.93zM1234.15 3265.51l18.93 18.93l-18.93 18.93l-18.93 -18.93zM1260.8 3269.92l18.93 18.93l-18.93 18.93l-18.93 -18.93zM1287.45 3273.29l18.93 18.93l-18.93 18.93l-18.93 -18.93zM1314.1 3276.28l18.93 18.93l-18.93 18.93l-18.93 -18.93zM1340.75 3279l18.93 18.93l-18.93 18.93l-18.93 -18.93zM1367.4 3281.08l18.93 18.93l-18.93 18.93l-18.93 -18.93zM1394.05 3283.16l18.93 18.93l-18.93 18.93l-18.93 -18.93zM1420.7 3284.85l18.93 18.93l-18.93 18.93l-18.93 -18.93zM1447.35 3286.4l18.93 18.93l-18.93 18.93l-18.93 -18.93zM1474 3287.83l18.93 18.93l-18.93 18.93l-18.93 -18.93zM1500.65 3288.77l18.93 18.93l-18.93 18.93l-18.93 -18.93zM1527.3 3289.63l18.93 18.93l-18.93 18.93l-18.93 -18.93zM1553.95 3290.43l18.93 18.93l-18.93 18.93l-18.93 -18.93zM1580.6 3291.02l18.93 18.93l-18.93 18.93l-18.93 -18.93zM1607.25 3291.57l18.93 18.93l-18.93 18.93l-18.93 -18.93zM1633.9 3292.08l18.93 18.93l-18.93 18.93l-18.93 -18.93zM1660.55 3292.57l18.93 18.93l-18.93 18.93l-18.93 -18.93zM1687.2 3293.02l18.93 18.93l-18.93 18.93l-18.93 -18.93zM1713.85 3294.33l18.93 18.93l-18.93 18.93l-18.93 -18.93zM1740.5 3295.39l18.93 18.93l-18.93 18.93l-18.93 -18.93zM1767.15 3296.24l18.93 18.93l-18.93 18.93l-18.93 -18.93zM1793.8 3296.93l18.93 18.93l-18.93 18.93l-18.93 -18.93zM1820.45 3297.48l18.93 18.93l-18.93 18.93l-18.93 -18.93zM1847.1 3297.93l18.93 18.93l-18.93 18.93l-18.93 -18.93zM1873.75 3298.28l18.93 18.93l-18.93 18.93l-18.93 -18.93zM1900.4 3298.57l18.93 18.93l-18.93 18.93l-18.93 -18.93zM1927.05 3298.81l18.93 18.93l-18.93 18.93l-18.93 -18.93zM1953.7 3298.99l18.93 18.93l-18.93 18.93l-18.93 -18.93z"/>
</g>
<rect x="1664.7" y="1879.2" width="370.3" height="386.1" fill="#fff" stroke="#000" stroke-width="1.7"/>
<path fill="#515151" stroke="#515151" stroke-width="1.8" stroke-linejoin="round" d="M1728 1908.4h26.8v26.8h-26.8z"/>
<text transform="translate(1826.4 1942) scale(1 1.045)" font-size="60.4">2 wt%</text>
<path fill="#F14040"  d="M1725.4 1996.95a16 16 0 1 0 32 0a16 16 0 1 0 -32 0z"/>
<text transform="translate(1826.4 2017.15) scale(1 1.045)" font-size="60.4">5 wt%</text>
<path fill="#1A6FDF" stroke="#1A6FDF" stroke-width="1.8" stroke-linejoin="round" d="M1741.4 2051.44l17.89 30.99h-35.78z"/>
<text transform="translate(1826.4 2092.3) scale(1 1.045)" font-size="60.4">11 wt%</text>
<path fill="#37AD6B" stroke="#37AD6B" stroke-width="1.8" stroke-linejoin="round" d="M1741.4 2167.91l17.89 -30.99h-35.78z"/>
<text transform="translate(1826.4 2167.45) scale(1 1.045)" font-size="60.4">15 wt%</text>
<path fill="#B177DE" stroke="#B177DE" stroke-width="1.8" stroke-linejoin="round" d="M1741.4 2203.47l18.93 18.93l-18.93 18.93l-18.93 -18.93z"/>
<text transform="translate(1826.4 2242.6) scale(1 1.045)" font-size="60.4">20 wt%</text>
</g>
</svg>
</body></html>
